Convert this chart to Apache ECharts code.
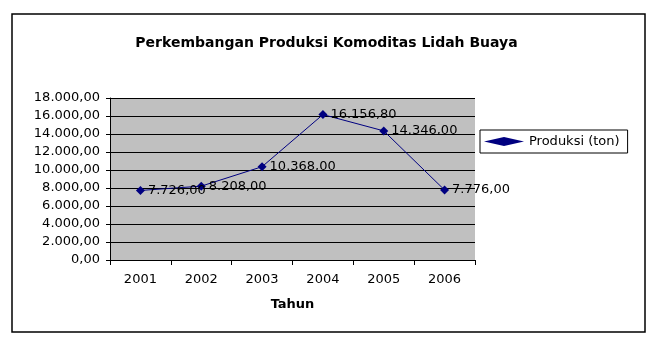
<!DOCTYPE html>
<html><head><meta charset="utf-8">
<script src="https://cdn.jsdelivr.net/npm/echarts@6/dist/echarts.min.js"></script>
<style>html,body{margin:0;padding:0;background:#fff}#c{width:653px;height:338px}</style>
</head><body><div id="c"></div>
<script>
var years = ['2001','2002','2003','2004','2005','2006'];
var produksi = [7726.00, 8208.00, 10368.00, 16156.80, 14346.00, 7776.00];
var seriesName = 'Produksi (ton)';
var titleText = 'Perkembangan Produksi Komoditas Lidah Buaya';
var xName = 'Tahun';

var FONT = '"DejaVu Sans", Arial, sans-serif';
function fmt(v){
  var s = v.toFixed(2).split('.');
  var i = s[0].replace(/\B(?=(\d{3})+(?!\d))/g, '.');
  return i + ',' + s[1];
}
var chart = echarts.init(document.getElementById('c'), null, {renderer:'canvas'});
chart.setOption({
  animation:false,
  backgroundColor:'#fff',
  graphic:[{type:'rect', shape:{x:12,y:14,width:633,height:318}, style:{fill:'none', stroke:'#000', lineWidth:1.5}, z:-1}],
  title:{text:titleText, left:'center', top:31, textStyle:{fontFamily:FONT, fontSize:14, fontWeight:'bold', color:'#000'}},
  legend:{data:[{name:seriesName, icon:'diamond'}], left:480, top:130, orient:'vertical', itemWidth:40, itemHeight:9, itemGap:0,
    borderColor:'#000', borderWidth:1, padding:[5,8,5,4], borderRadius:0,
    textStyle:{fontFamily:FONT, fontSize:13, color:'#000'}},
  grid:{left:110, right:178, top:98, bottom:78, backgroundColor:'#c0c0c0', show:true, borderWidth:0},
  xAxis:{type:'category', data:years, boundaryGap:true, name:xName, nameLocation:'middle', nameGap:38,
    nameTextStyle:{fontFamily:FONT, fontSize:13, fontWeight:'bold', color:'#000'},
    axisLine:{lineStyle:{color:'#000', width:1}}, axisTick:{show:true, alignWithLabel:false, length:5, lineStyle:{color:'#000'}},
    axisLabel:{fontFamily:FONT, fontSize:13, color:'#000', margin:13}},
  yAxis:{type:'value', min:0, max:18000, interval:2000,
    axisLine:{show:true, lineStyle:{color:'#000'}}, axisTick:{show:true, length:4, lineStyle:{color:'#000'}},
    splitLine:{lineStyle:{color:'#000', width:1}},
    axisLabel:{fontFamily:FONT, fontSize:13, color:'#000', margin:10, formatter:fmt}},
  series:[{name:seriesName, type:'line', data:produksi, symbol:'diamond', symbolSize:9,
    itemStyle:{color:'#000080'}, lineStyle:{color:'#000080', width:1},
    label:{show:true, position:'right', distance:3, formatter:function(p){return fmt(p.value);},
      fontFamily:FONT, fontSize:13, color:'#000'}}]
});
</script></body></html>
